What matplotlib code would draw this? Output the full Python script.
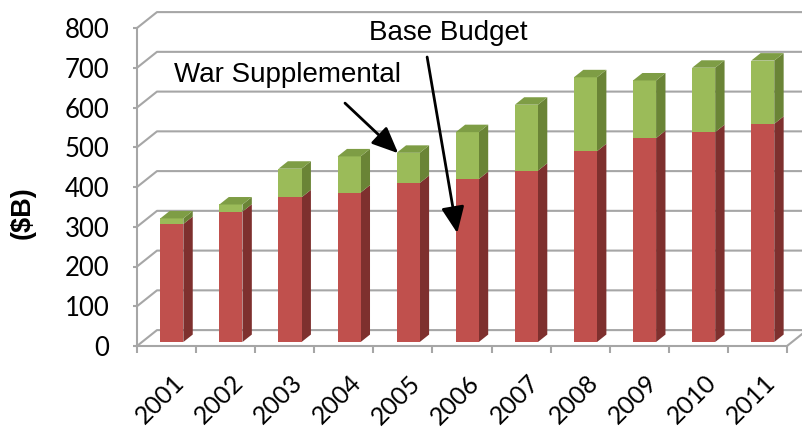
import matplotlib
matplotlib.use("Agg")
import matplotlib.pyplot as plt
from matplotlib.patches import Polygon
import numpy as np

years = ["2001", "2002", "2003", "2004", "2005", "2006", "2007", "2008", "2009", "2010", "2011"]
base_budget = [297, 328, 364, 376, 400, 410, 431, 480, 513, 528, 549]
war_supplemental = [14, 18, 72, 91, 76, 118, 166, 186, 145, 162, 159]
y_ticks = [0, 100, 200, 300, 400, 500, 600, 700, 800]

RED_FRONT, RED_SIDE = "#C0504D", "#7E302E"
GRN_FRONT, GRN_SIDE, GRN_TOP = "#9BBB59", "#6A8436", "#7E9D45"
GRID = "#A6A6A6"

fig = plt.figure(figsize=(8.02, 4.32), dpi=100)
ax = fig.add_axes([137/802, (432-346)/432, 650/802, (346-28)/432])
n = len(years)
ax.set_xlim(0, n)
ax.set_ylim(0, 800)

DX, DY = 0.338, 40.0  # full-depth offset in data units


def P(x, y, d):
    return (x + d * DX, y + d * DY)


# gridlines on side wall + back wall
for v in y_ticks:
    pts = [P(0, v, 0), P(0, v, 1), P(n + 1, v, 1)]
    xs, ys = zip(*pts)
    ax.plot(xs, ys, color=GRID, lw=1.5, clip_on=False, zorder=1, solid_capstyle="butt")
# floor right edge
xs, ys = zip(*[P(n, 0, 0), P(n, 0, 1)])
ax.plot(xs, ys, color=GRID, lw=1.5, clip_on=False, zorder=1)

# bars
x0f, x1f, d0, d1 = 0.31, 0.7, 0.25, 0.72


def box(i, b, t, front, side, top=None):
    x0, x1 = i + x0f, i + x1f
    ax.add_patch(Polygon([P(x1, b, d0), P(x1, b, d1), P(x1, t, d1), P(x1, t, d0)],
                         closed=True, fc=side, ec="none", zorder=3, clip_on=False))
    ax.add_patch(Polygon([P(x0, b, d0), P(x1, b, d0), P(x1, t, d0), P(x0, t, d0)],
                         closed=True, fc=front, ec="none", zorder=4, clip_on=False))
    if top is not None:
        ax.add_patch(Polygon([P(x0, t, d0), P(x1, t, d0), P(x1, t, d1), P(x0, t, d1)],
                             closed=True, fc=top, ec="none", zorder=4, clip_on=False))


for i in range(n):
    b = base_budget[i]
    w = war_supplemental[i]
    box(i, 0, b, RED_FRONT, RED_SIDE)
    box(i, b, b + w, GRN_FRONT, GRN_SIDE, GRN_TOP)

# axes styling
for s in ["top", "right"]:
    ax.spines[s].set_visible(False)
for s in ["left", "bottom"]:
    ax.spines[s].set_color(GRID)
    ax.spines[s].set_linewidth(1.5)
    ax.spines[s].set_zorder(2)
ax.patch.set_alpha(0)

ax.set_yticks(y_ticks)
ax.set_yticklabels([str(v) for v in y_ticks], fontfamily="Lato", fontsize=18.5)
ax.tick_params(axis="y", direction="out", length=3, width=1.5, color=GRID, pad=17)

ax.set_xticks(np.arange(n + 1))
ax.set_xticklabels([])
ax.tick_params(axis="x", which="major", direction="out", length=5, width=1.5, color=GRID)
ax.set_xticks(np.arange(n) + 0.6, minor=True)
ax.set_xticklabels(years, minor=True, fontfamily="Lato", fontsize=18,
                   rotation=45, ha="right", va="top", rotation_mode="anchor")
ax.tick_params(axis="x", which="minor", length=0, pad=18)

# y label
fig.text(23/802, 1 - 213/432, "($B)", rotation=90, ha="center", va="center",
         fontfamily="Liberation Sans", fontweight="bold", fontsize=19.5)

# annotations
arrow = dict(arrowstyle="-|>,head_length=0.8,head_width=0.35", color="black", lw=2,
             shrinkA=0, shrinkB=0, mutation_scale=20)
ax.text(2.555, 682, "War Supplemental", ha="center", va="center",
        fontfamily="Liberation Sans", fontsize=20, zorder=6)
ax.annotate("", xy=(4.42, 485), xytext=(3.52, 611), arrowprops=arrow, zorder=6,
            annotation_clip=False)
ax.text(5.26, 787, "Base Budget", ha="center", va="center",
        fontfamily="Liberation Sans", fontsize=20, zorder=6)
ax.annotate("", xy=(5.42, 284), xytext=(4.91, 727), arrowprops=arrow, zorder=6,
            annotation_clip=False)

fig.savefig("out.png", dpi=100)
